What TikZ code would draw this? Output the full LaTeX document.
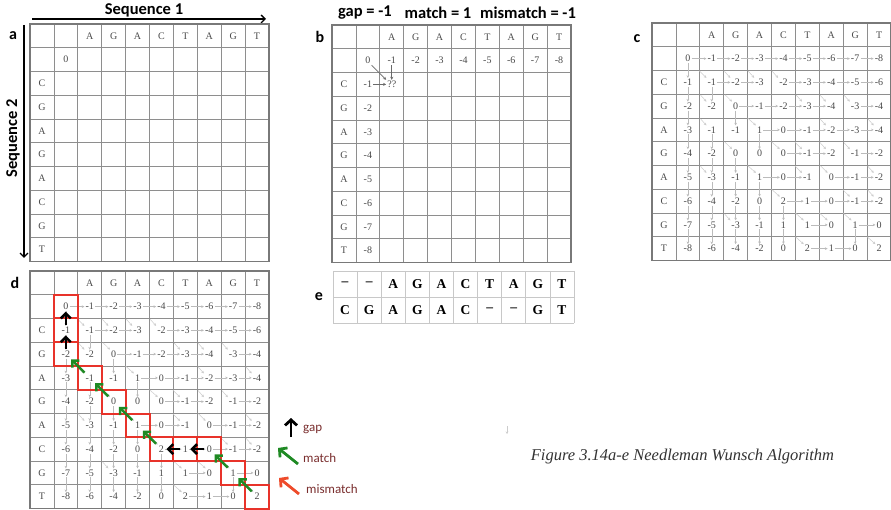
\documentclass[tikz,border=0pt]{standalone}
\usepackage{fontspec}
\setmainfont{Liberation Serif}
\newfontfamily\carlito{Carlito}
\usetikzlibrary{arrows.meta}
\definecolor{gridc}{HTML}{8E8E8E}
\definecolor{gride}{HTML}{C8C8C8}
\definecolor{txtc}{HTML}{4A4A4A}
\definecolor{garr}{HTML}{BBBBBB}
\definecolor{barr}{HTML}{6A6A6A}
\definecolor{tbred}{HTML}{E8332A}
\definecolor{tbgreen}{HTML}{1F8A24}
\definecolor{legred}{HTML}{EE4B2B}
\definecolor{legtxt}{HTML}{7A2E2E}
\def\cw{23.9}
\def\rh{23.75}
\tikzset{
  gridline/.style={draw=gridc, line width=0.8pt},
  gridouter/.style={draw=gridc!85!black, line width=1.1pt},
  lett/.style={font=\fontsize{10}{11}\selectfont, text=txtc, inner sep=1pt},
  num/.style={font=\fontsize{10}{11}\selectfont, text=txtc, inner sep=1pt},
  garrow/.style={draw=garr, line width=0.5pt, -{Stealth[length=2.6pt,width=2.6pt]}},
  barrow/.style={draw=barr, line width=0.6pt, -{Stealth[length=3pt,width=3pt]}},
  lab/.style={font=\carlito\bfseries\fontsize{16}{18}\selectfont, inner sep=0pt},
  head/.style={font=\carlito\bfseries\fontsize{16.5}{18}\selectfont, inner sep=0pt},
  seqarrow/.style={line width=1.3pt, -{Straight Barb[length=4pt,width=8pt]}},
  tbbox/.style={draw=tbred, line width=2pt},
  tbblack/.style={draw=black, line width=2.5pt, shorten <=5pt, shorten >=5pt, -{Straight Barb[length=5pt,width=10pt]}},
  tbgreenarr/.style={draw=tbgreen, line width=2.5pt, shorten <=7.5pt, shorten >=7.5pt, -{Straight Barb[length=5pt,width=10pt]}},
  legarrow/.style={line width=2.8pt, -{Straight Barb[length=5.5pt,width=12pt]}},
  legtext/.style={font=\carlito\fontsize{13}{14}\selectfont, text=legtxt, anchor=west, inner sep=0pt},
  eletter/.style={font=\bfseries\fontsize{13.5}{14}\selectfont, inner sep=0pt}
}
\newcommand\nwgrid[3]{%
  \foreach \k in {0,...,10}{%
    \draw[gridline] ({#1+\k*\cw},#2) -- ({#1+\k*\cw},{#2+10*\rh});
    \draw[gridline] (#1,{#2+\k*\rh}) -- ({#1+10*\cw},{#2+\k*\rh});
  }%
  \draw[gridouter] (#1,#2) rectangle ({#1+10*\cw},{#2+10*\rh});
  \foreach \l [count=\cc from 2] in {A,G,A,C,T,A,G,T}
    \node[lett] (#3-top-\cc) at ({#1+(\cc+0.5)*\cw},{#2+0.5*\rh}) {\l};
  \foreach \l [count=\rr from 2] in {C,G,A,G,A,C,G,T}
    \node[lett] (#3-side-\rr) at ({#1+0.5*\cw},{#2+(\rr+0.5)*\rh}) {\l};
}
\newcommand\nwvalues[3]{%
  \foreach \row [count=\i from 0] in {%
    {0,-1,-2,-3,-4,-5,-6,-7,-8},%
    {-1,-1,-2,-3,-2,-3,-4,-5,-6},%
    {-2,-2,0,-1,-2,-3,-4,-3,-4},%
    {-3,-1,-1,1,0,-1,-2,-3,-4},%
    {-4,-2,0,0,0,-1,-2,-1,-2},%
    {-5,-3,-1,1,0,-1,0,-1,-2},%
    {-6,-4,-2,0,2,1,0,-1,-2},%
    {-7,-5,-3,-1,1,1,0,1,0},%
    {-8,-6,-4,-2,0,2,1,0,2}}{%
    \foreach \v [count=\j from 0] in \row
      \node[num] (#3-\i-\j) at ({#1+(\j+1.5)*\cw},{#2+(\i+1.5)*\rh}) {\v};
  }%
}
\newcommand\nwarrows[1]{%
  \foreach \i/\j in {0/1,0/2,0/3,0/4,0/5,0/6,0/7,0/8,1/2,1/3,1/5,1/6,1/7,1/8,2/3,2/4,2/5,2/6,2/8,3/4,3/5,3/6,3/7,3/8,4/5,4/6,4/8,5/4,5/5,5/7,5/8,6/5,6/6,6/7,6/8,7/6,7/8,8/6,8/7}{%
    \pgfmathtruncatemacro\jm{\j-1}%
    \draw[garrow] (#1-\i-\jm.east) -- (#1-\i-\j.west);
  }%
  \foreach \i/\j in {1/0,2/0,3/0,4/0,5/0,6/0,7/0,8/0,2/1,3/2,4/1,4/3,5/1,5/2,6/1,6/2,6/3,7/1,7/2,7/3,7/4,8/1,8/2,8/3,8/4,8/7}{%
    \pgfmathtruncatemacro\im{\i-1}%
    \draw[garrow] (#1-\im-\j.south) -- (#1-\i-\j.north);
  }%
  \foreach \i/\j in {1/1,1/2,1/3,1/4,2/1,2/2,2/5,2/6,2/7,3/1,3/3,3/6,3/8,4/2,4/4,4/5,4/6,4/7,5/1,5/3,5/5,5/6,5/8,6/4,6/7,6/8,7/2,7/5,7/6,7/7,8/5,8/8}{%
    \pgfmathtruncatemacro\im{\i-1}\pgfmathtruncatemacro\jm{\j-1}%
    \draw[garrow, draw=garr!75, shorten <=11pt] (#1-\im-\jm.south east) -- (#1-\i-\j.north west);
  }%
}
\begin{document}
\begin{tikzpicture}[x=1pt,y=-1pt]
\useasboundingbox[fill=white] (0,0) rectangle (891,510);

% ---------- titles ----------
\node[head] (seq1) at (144,10) {Sequence 1};
\coordinate (s1a) at (32,19);
\coordinate (s1b) at (266,19);
\draw[seqarrow] (s1a) -- (s1b);
\node[head, rotate=90] (seq2) at (13,138) {Sequence 2};
\coordinate (s2a) at (24,25);
\coordinate (s2b) at (24,258);
\draw[seqarrow] (s2a) -- (s2b);
\node[head] (sc1) at (365,13) {gap = -1};
\node[head] (sc2) at (438,13) {match = 1};
\node[head] (sc3) at (528,13) {mismatch = -1};

\node[lab] (la) at (13,36) {a};
\node[lab] (lb) at (320,37) {b};
\node[lab] (lc) at (637,39) {c};
\node[lab] (ld) at (15,283) {d};
\node[lab] (le) at (319,297) {e};

% ---------- panel a ----------
\nwgrid{30}{24}{a}
\node[num] (a-0-0) at ({30+1.5*\cw},{24+1.5*\rh}) {0};

% ---------- panel b ----------
\nwgrid{332}{25}{b}
\foreach \v [count=\j from 0] in {0,-1,-2,-3,-4,-5,-6,-7,-8}
  \node[num] (b-0-\j) at ({332+(\j+1.5)*\cw},{25+1.5*\rh}) {\v};
\foreach \v [count=\i from 1] in {-1,-2,-3,-4,-5,-6,-7,-8}
  \node[num] (b-\i-0) at ({332+1.5*\cw},{25+(\i+1.5)*\rh}) {\v};
\node[num] (b-1-1) at ({332+2.5*\cw},{25+2.5*\rh}) {??};
\draw[barrow] (b-0-0.south east) -- (b-1-1.north west);
\draw[barrow] (b-0-1.south) -- (b-1-1.north);
\draw[barrow] (b-1-0.east) -- (b-1-1.west);

% ---------- panel c ----------
\nwgrid{652}{23}{c}
\nwvalues{652}{23}{c}
\nwarrows{c}

% ---------- panel d ----------
\nwgrid{30}{271}{d}
\nwvalues{30}{271}{d}
\nwarrows{d}
\foreach \ti/\tj in {0/0,1/0,2/0,3/1,4/2,5/3,6/4,6/5,6/6,7/7,8/8}{%
  \draw[tbbox] ({30+(\tj+1)*\cw},{271+(\ti+1)*\rh}) rectangle ({30+(\tj+2)*\cw},{271+(\ti+2)*\rh});
}
\draw[tbblack] (d-1-0.center) -- (d-0-0.center);
\draw[tbblack] (d-2-0.center) -- (d-1-0.center);
\draw[tbblack] (d-6-5.center) -- (d-6-4.center);
\draw[tbblack] (d-6-6.center) -- (d-6-5.center);
\draw[tbgreenarr] (d-3-1.center) -- (d-2-0.center);
\draw[tbgreenarr] (d-4-2.center) -- (d-3-1.center);
\draw[tbgreenarr] (d-5-3.center) -- (d-4-2.center);
\draw[tbgreenarr] (d-6-4.center) -- (d-5-3.center);
\draw[tbgreenarr] (d-7-7.center) -- (d-6-6.center);
\draw[tbgreenarr] (d-8-8.center) -- (d-7-7.center);

% ---------- panel e ----------
\foreach \k in {0,...,10}
  \draw[draw=gride, line width=0.8pt] ({333+\k*24.1},271) -- ({333+\k*24.1},323);
\foreach \k in {0,1,2}
  \draw[draw=gride, line width=0.8pt] (333,{271+\k*26}) -- ({333+10*24.1},{271+\k*26});
\foreach \l [count=\cc from 0] in {--,--,A,G,A,C,T,A,G,T}
  \node[eletter] (e-0-\cc) at ({333+(\cc+0.5)*24.1},284) {\l};
\foreach \l [count=\cc from 0] in {C,G,A,G,A,C,--,--,G,T}
  \node[eletter] (e-1-\cc) at ({333+(\cc+0.5)*24.1},310) {\l};

% ---------- legend ----------
\coordinate (g1a) at (291,437);
\coordinate (g1b) at (291,418);
\draw[legarrow, draw=black] (g1a) -- (g1b);
\node[legtext] (lgap) at (303,429) {gap};
\coordinate (g2a) at (298,464);
\coordinate (g2b) at (278,448);
\draw[legarrow, draw=tbgreen] (g2a) -- (g2b);
\node[legtext] (lmatch) at (303,458) {match};
\coordinate (g3a) at (299,494);
\coordinate (g3b) at (279,478);
\draw[legarrow, draw=legred] (g3a) -- (g3b);
\node[legtext] (lmis) at (306,489) {mismatch};

% ---------- stray mark and caption ----------
\coordinate (st1) at (507,426);
\coordinate (st2) at (507,434);
\draw[draw=gray!40, line width=0.6pt, -{Stealth[length=2.5pt,width=2.5pt]}] (st1) -- (st2);
\node[font=\itshape\fontsize{16.5}{18}\selectfont, text=black!80] (cap) at (682.5,457) {Figure 3.14a-e Needleman Wunsch Algorithm};
\end{tikzpicture}
\end{document}
